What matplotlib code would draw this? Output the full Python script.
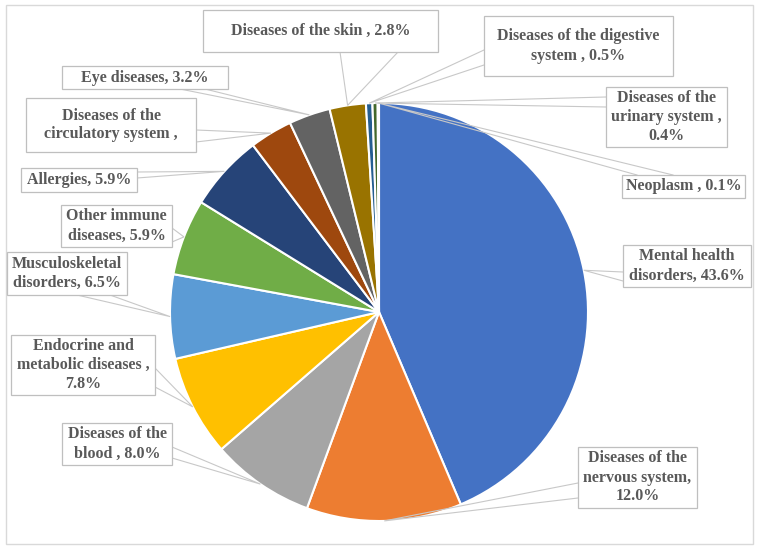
import matplotlib
matplotlib.use("Agg")
import matplotlib.pyplot as plt
from matplotlib.patches import Rectangle
import numpy as np

# ---- data ----
categories = [
    "Mental health disorders", "Diseases of the nervous system", "Diseases of the blood",
    "Endocrine and metabolic diseases", "Musculoskeletal disorders", "Other immune diseases",
    "Allergies", "Diseases of the circulatory system", "Eye diseases", "Diseases of the skin",
    "Diseases of the digestive system", "Diseases of the urinary system", "Neoplasm",
]
values = [43.6, 12.0, 8.0, 7.8, 6.5, 5.9, 5.9, 3.3, 3.2, 2.8, 0.5, 0.4, 0.1]
labels = [
    "Mental health\ndisorders, 43.6%",
    "Diseases of the\nnervous system,\n12.0%",
    "Diseases of the\nblood , 8.0%",
    "Endocrine and\nmetabolic diseases ,\n7.8%",
    "Musculoskeletal\ndisorders, 6.5%",
    "Other immune\ndiseases, 5.9%",
    "Allergies, 5.9%",
    "Diseases of the\ncirculatory system ,",
    "Eye diseases, 3.2%",
    "Diseases of the skin , 2.8%",
    "Diseases of the digestive\nsystem , 0.5%",
    "Diseases of the\nurinary system ,\n0.4%",
    "Neoplasm , 0.1%",
]
colors = ['#4472C4', '#ED7D31', '#A5A5A5', '#FFC000', '#5B9BD5', '#70AD47', '#264478',
          '#9E480E', '#636363', '#997300', '#255E91', '#43682B', '#698ED0']

# ---- layout (pixel coords, y downward) ----
W, H = 760, 549
boxes = [
    (623, 245, 751, 287), (578, 447, 697, 508), (62, 423, 172, 465), (11, 335, 155, 395),
    (7, 252, 127, 295), (61, 205, 172, 247), (21, 168, 137, 192), (26, 98, 196, 152),
    (62, 66, 228, 89), (203, 10, 438, 52), (484, 16, 673, 76), (606, 87, 727, 147),
    (622, 175, 745, 198),
]
bases = [
    ((623, 272), (623, 281)), ((578, 483), (578, 498)), ((172, 447), (172, 458)),
    ((155, 368), (155, 387)), ((77, 295), (110, 295)), ((172, 228), (172, 242)),
    ((137, 172), (137, 178)), ((196, 130), (196, 142)), ((180, 89), (205, 89)),
    ((340, 52), (398, 52)), ((484, 50), (484, 65)), ((606, 97), (606, 107)),
    ((637, 175), (673, 175)),
]

def Y(y):
    return H - y

fig = plt.figure(figsize=(7.6, 5.49), dpi=100)
ax = fig.add_axes([0, 0, 1, 1])

# outer frame
ax.add_patch(Rectangle((6, Y(544)), 747, 539, facecolor='white', edgecolor='#D9D9D9', lw=1.0, zorder=0))

cx, cy, R = 379, 312, 209
wedges, _ = ax.pie(values, colors=colors, startangle=90, counterclock=False,
                   center=(cx, Y(cy)), radius=R, frame=True,
                   wedgeprops=dict(edgecolor='white', linewidth=1.5))
for w in wedges:
    w.set_zorder(2)
ax.set_xlim(0, W)
ax.set_ylim(0, H)
ax.set_aspect('equal')
ax.axis('off')

font = dict(family=['Liberation Serif', 'DejaVu Serif'], weight='bold', color='#595959', size=11.5)
for w, lab, box, base in zip(wedges, labels, boxes, bases):
    mid = np.deg2rad((w.theta1 + w.theta2) / 2)
    tx = w.center[0] + w.r * np.cos(mid)
    ty = w.center[1] + w.r * np.sin(mid)
    (b1x, b1y), (b2x, b2y) = base
    ax.plot([b1x, tx, b2x], [Y(b1y), ty, Y(b2y)], color='#C8C8C8', lw=0.8, zorder=3,
            solid_joinstyle='miter')
    x0, y0, x1, y1 = box
    ax.add_patch(Rectangle((x0, Y(y1)), x1 - x0, y1 - y0, facecolor='white',
                           edgecolor='#BFBFBF', lw=0.9, zorder=4))
    ax.text((x0 + x1) / 2, Y((y0 + y1) / 2), lab, ha='center', va='center',
            multialignment='center', linespacing=1.25, zorder=5, **font)

fig.savefig('out.png', dpi=100)
